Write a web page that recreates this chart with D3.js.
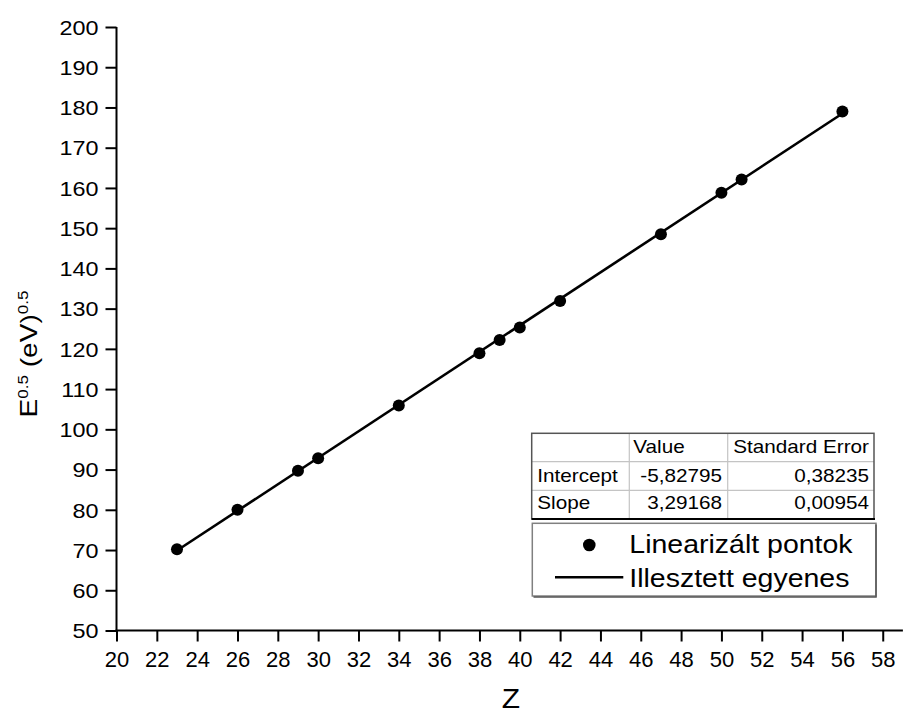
<!DOCTYPE html>
<html>
<head>
<meta charset="utf-8">
<script src="https://cdn.jsdelivr.net/npm/d3@7"></script>
<style>
  html, body { margin: 0; padding: 0; background: #fff; }
  svg { display: block; }
  text { font-family: "Liberation Sans", Arial, Helvetica, sans-serif; fill: #000; }
</style>
</head>
<body>
<svg id="chart" width="904" height="713"></svg>
<script>
// Measured points: atomic number Z vs sqrt(E)
const zValues = [23, 26, 29, 30, 34, 38, 39, 40, 42, 47, 50, 51, 56];
const sqrtE = [70.2, 80.0, 89.7, 92.8, 105.9, 118.9, 122.2, 125.3, 131.9, 148.5, 158.8, 162.1, 179.0];

// Linear fit results
const fitIntercept = -5.82795;
const fitSlope = 3.29168;
const fitRows = [
  { name: "Intercept", value: "-5,82795", error: "0,38235" },
  { name: "Slope", value: "3,29168", error: "0,00954" }
];
const fitHeader = ["", "Value", "Standard Error"];

// Axis ticks
const xMajorTicks = d3.range(20, 59, 2);
const xMinorTicks = d3.range(21, 60, 2);
const yMajorTicks = d3.range(50, 201, 10);
const yMinorTicks = d3.range(50, 200, 10).flatMap(v => [v + 10 / 3, v + 20 / 3]);

const legendLabels = ["Linearizált pontok", "Illesztett egyenes"];

const svg = d3.select("#chart");
svg.append("rect").attr("width", 904).attr("height", 713).attr("fill", "#fff");

const x = d3.scaleLinear().domain([20, 59]).range([116.5, 902.9]);
const y = d3.scaleLinear().domain([50, 200]).range([630.5, 27]);

// ---- X axis ----
const gx = svg.append("g").attr("transform", `translate(0,${y(50)})`);
gx.call(d3.axisBottom(x).tickValues(xMinorTicks).tickSize(6).tickSizeOuter(0).tickFormat(""));
gx.call(d3.axisBottom(x).tickValues(xMajorTicks).tickSize(11).tickSizeOuter(0));
gx.selectAll(".domain").attr("stroke", "#000").attr("stroke-width", 2).attr("d", `M${x(20) - 1},0H${x(59)}`);
gx.selectAll(".tick line").attr("stroke", "#000").attr("stroke-width", 2);
gx.selectAll(".tick text")
  .attr("y", 36).attr("dy", 0)
  .style("font-size", "22px");

// ---- Y axis ----
const gy = svg.append("g").attr("transform", `translate(${x(20)},0)`);
gy.call(d3.axisLeft(y).tickValues(yMinorTicks).tickSize(6).tickSizeOuter(0).tickFormat(""));
gy.call(d3.axisLeft(y).tickValues(yMajorTicks).tickSize(11).tickSizeOuter(0));
gy.selectAll(".domain").attr("stroke", "#000").attr("stroke-width", 2).attr("d", `M0,${y(200)}V${y(50) + 1}`);
gy.selectAll(".tick line").attr("stroke", "#000").attr("stroke-width", 2);
gy.selectAll(".tick text")
  .attr("x", 0).attr("dy", "0.36em")
  .attr("transform", "translate(-18,0) scale(1.17,1)")
  .style("font-size", "20px");

// ---- Axis titles ----
svg.append("g")
  .attr("transform", "translate(511,708) scale(1.07,1)")
  .append("text").attr("text-anchor", "middle").style("font-size", "28px").text("Z");

const yTitle = svg.append("g")
  .attr("transform", "translate(37,354) rotate(-90) scale(1.22,1)")
  .append("text").attr("text-anchor", "middle").style("font-size", "23px");
yTitle.append("tspan").text("E");
yTitle.append("tspan").attr("dy", -9).style("font-size", "14px").text("0.5");
yTitle.append("tspan").attr("dy", 9).text(" (eV)");
yTitle.append("tspan").attr("dy", -9).style("font-size", "14px").text("0.5");

// ---- Fitted line ----
const fitLine = d3.line().x(d => x(d)).y(d => y(fitIntercept + fitSlope * d));
svg.append("path")
  .datum(d3.extent(zValues))
  .attr("d", fitLine)
  .attr("fill", "none").attr("stroke", "#000").attr("stroke-width", 2.6);

// ---- Points ----
svg.append("g").selectAll("circle")
  .data(zValues.map((z, i) => [z, sqrtE[i]]))
  .join("circle")
  .attr("cx", d => x(d[0])).attr("cy", d => y(d[1]))
  .attr("r", 6).attr("fill", "#000");

// ---- Fit parameter table ----
const table = svg.append("g");
const tL = 531.7, tR = 874, tT = 433.3, tB = 519;
const colX = [tL, 629.3, 727.7, tR];
const rowY = [tT, 461.7, 490.3, tB];
table.append("rect").attr("x", tL).attr("y", tT).attr("width", tR - tL).attr("height", tB - tT)
  .attr("fill", "#fff").attr("stroke", "none");
[1, 2].forEach(i => {
  table.append("line").attr("x1", tL).attr("x2", tR).attr("y1", rowY[i]).attr("y2", rowY[i])
    .attr("stroke", "#c4c4c4").attr("stroke-width", 1.2);
  table.append("line").attr("x1", colX[i]).attr("x2", colX[i]).attr("y1", tT).attr("y2", tB)
    .attr("stroke", "#c4c4c4").attr("stroke-width", 1.2);
});
table.append("rect").attr("x", tL).attr("y", tT).attr("width", tR - tL).attr("height", tB - tT)
  .attr("fill", "none").attr("stroke", "#555").attr("stroke-width", 1.5);
table.append("line").attr("x1", tL).attr("x2", tR + 1).attr("y1", tB).attr("y2", tB)
  .attr("stroke", "#000").attr("stroke-width", 1.8);

function cellText(px, py, str, anchor) {
  table.append("g").attr("transform", `translate(${px},${py}) scale(1.15,1)`)
    .append("text").attr("text-anchor", anchor).style("font-size", "18px").text(str);
}
cellText(633.3, 453.3, fitHeader[1], "start");
cellText(733.3, 453.3, fitHeader[2], "start");
fitRows.forEach((r, i) => {
  const by = [481.7, 509.3][i];
  cellText(537.3, by, r.name, "start");
  cellText(722, by, r.value, "end");
  cellText(869, by, r.error, "end");
});

// ---- Legend ----
const legend = svg.append("g");
legend.append("rect").attr("x", 532.3).attr("y", 523.3).attr("width", 343.7).attr("height", 72.7)
  .attr("fill", "#fff").attr("stroke", "#808080").attr("stroke-width", 1.5);
legend.append("path").attr("d", "M876,524.5V597H533.5")
  .attr("fill", "none").attr("stroke", "#555").attr("stroke-width", 1.5);
legend.append("circle").attr("cx", 589.3).attr("cy", 545).attr("r", 6.3).attr("fill", "#000");
legend.append("line").attr("x1", 555).attr("x2", 623.3).attr("y1", 577.3).attr("y2", 577.3)
  .attr("stroke", "#000").attr("stroke-width", 2.6);
legendLabels.forEach((lab, i) => {
  legend.append("g").attr("transform", `translate(629.3,${[553, 586.7][i]}) scale(1.14,1)`)
    .append("text").style("font-size", "25px").text(lab);
});
</script>
</body>
</html>
